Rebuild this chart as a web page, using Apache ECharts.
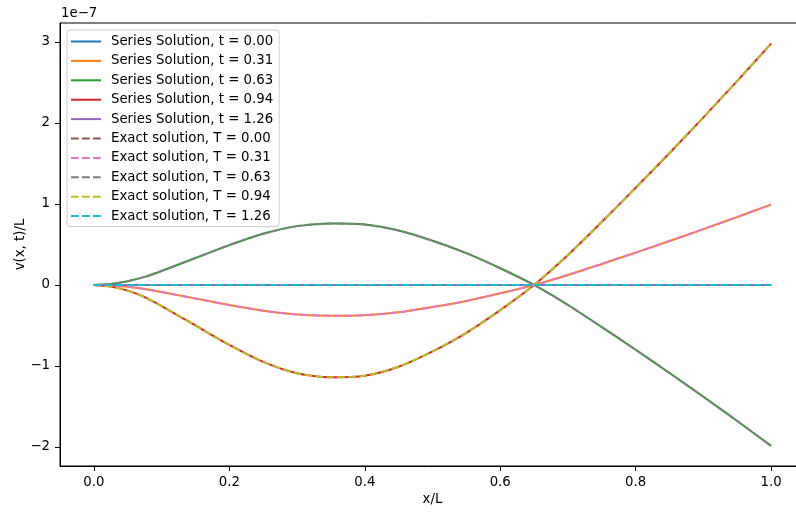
<!DOCTYPE html>
<html>
<head>
<meta charset="utf-8">
<script src="https://cdn.jsdelivr.net/npm/echarts@6/dist/echarts.min.js"></script>
<style>html,body{margin:0;padding:0;background:#fff}#c{width:796px;height:512px}</style>
</head>
<body>
<div id="c"></div>
<script>
// x/L positions
var xs = [0, 0.025, 0.05, 0.075, 0.1, 0.15, 0.2, 0.25, 0.3, 0.35, 0.4, 0.45, 0.5, 0.55, 0.6, 0.65, 0.7, 0.75, 0.8, 0.85, 0.9, 0.95, 1.0];
// v(x,t)/L values in units of 1e-7
var v_t000 = [0,0,0,0,0,0,0,0,0,0,0,0,0,0,0,0,0,0,0,0,0,0,0];
var v_t031 = [0, -0.007, -0.023, -0.05, -0.087, -0.167, -0.247, -0.317, -0.363, -0.38, -0.373, -0.337, -0.273, -0.197, -0.103, 0, 0.123, 0.26, 0.40, 0.543, 0.69, 0.84, 0.993];
var v_t063 = [0, 0.013, 0.047, 0.10, 0.173, 0.333, 0.493, 0.633, 0.727, 0.76, 0.747, 0.673, 0.547, 0.393, 0.207, 0, -0.247, -0.52, -0.80, -1.087, -1.38, -1.68, -1.987];
var v_t094 = [0, -0.02, -0.07, -0.15, -0.26, -0.50, -0.74, -0.95, -1.09, -1.14, -1.12, -1.01, -0.82, -0.59, -0.31, 0, 0.37, 0.78, 1.20, 1.63, 2.07, 2.52, 2.98];
var v_t126 = [0,0,0,0,0,0,0,0,0,0,0,0,0,0,0,0,0,0,0,0,0,0,0];
var xTicks = [0, 0.2, 0.4, 0.6, 0.8, 1.0];
var yTicks = [-2, -1, 0, 1, 2, 3];

var seriesNames = ['Series Solution, t = 0.00','Series Solution, t = 0.31','Series Solution, t = 0.63','Series Solution, t = 0.94','Series Solution, t = 1.26',
  'Exact solution, T = 0.00','Exact solution, T = 0.31','Exact solution, T = 0.63','Exact solution, T = 0.94','Exact solution, T = 1.26'];
var seriesValues = [v_t000, v_t031, v_t063, v_t094, v_t126, v_t000, v_t031, v_t063, v_t094, v_t126];
var colors = ['#1f77b4','#ff7f0e','#2ca02c','#d62728','#9467bd','#8c564b','#e377c2','#7f7f7f','#bcbd22','#17becf'];

function pairs(vals){ return xs.map(function(x,i){ return [x, vals[i]]; }); }
var FONT = 'DejaVu Sans';
var FS = 13.3;
var series = seriesNames.map(function(n, i){
  return {
    name: n, type: 'line', data: pairs(seriesValues[i]), showSymbol: false, symbol: 'none',
    smooth: 0.25, z: 2,
    lineStyle: { color: colors[i], width: 2, type: i < 5 ? 'solid' : [7.7, 3.3] },
    itemStyle: { color: colors[i] }
  };
});

var chart = echarts.init(document.getElementById('c'));
chart.setOption({
  animation: false,
  backgroundColor: '#fff',
  textStyle: { fontFamily: FONT },
  grid: { left: 60, top: 23, right: -9, bottom: 46, show: true, borderColor: '#000', borderWidth: 1, backgroundColor: 'transparent', outerBoundsMode: 'none', containLabel: false },
  graphic: [{ type: 'text', left: 61, top: 7, style: { text: '1e\u22127', font: FS + 'px "DejaVu Sans"', fill: '#000' } }],
  legend: {
    orient: 'vertical', left: 67, top: 30, itemWidth: 30, itemHeight: 14, itemGap: 6.4,
    padding: [5, 6, 4, 3], borderColor: '#cccccc', borderWidth: 1, borderRadius: 3, backgroundColor: 'rgba(255,255,255,0.8)',
    itemStyle: { opacity: 0 },
    textStyle: { fontFamily: FONT, fontSize: FS, color: '#000', padding: [0, 0, 0, 5] },
    data: seriesNames
  },
  xAxis: {
    type: 'value', min: -0.05, max: 1.05,
    name: 'x/L', nameLocation: 'middle', nameGap: 27, nameMoveOverlap: false, nameTextStyle: { fontFamily: FONT, fontSize: FS, color: '#000' },
    axisLine: { show: true, onZero: false, lineStyle: { color: '#000', width: 1 } },
    axisTick: { show: true, length: 5, customValues: xTicks, lineStyle: { color: '#000' } },
    axisLabel: { customValues: xTicks, margin: 10, fontFamily: FONT, fontSize: FS, color: '#000', formatter: function(v){ return v.toFixed(1); } },
    splitLine: { show: false }
  },
  yAxis: {
    type: 'value', min: -2.235, max: 3.235,
    name: 'v(x, t)/L', nameLocation: 'middle', nameGap: 33, nameMoveOverlap: false, nameTextStyle: { fontFamily: FONT, fontSize: FS, color: '#000' },
    axisLine: { show: true, onZero: false, lineStyle: { color: '#000', width: 1 } },
    axisTick: { show: true, length: 5, customValues: yTicks, lineStyle: { color: '#000' } },
    axisLabel: { customValues: yTicks, margin: 10, fontFamily: FONT, fontSize: FS, color: '#000', formatter: function(v){ return v < 0 ? '\u2212' + (-v) : String(v); } },
    splitLine: { show: false }
  },
  series: series
});
</script>
</body>
</html>
